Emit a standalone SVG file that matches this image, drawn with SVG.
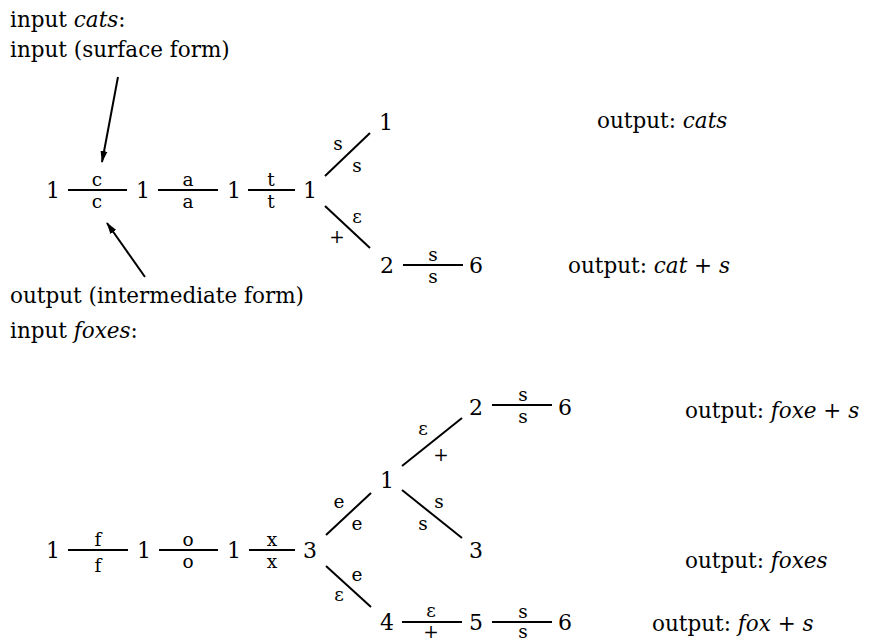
<svg xmlns="http://www.w3.org/2000/svg" width="869" height="641" viewBox="0 0 869 641">
<defs>
<style>
text { font-family: "DejaVu Serif", "Liberation Serif", serif; fill: #000; }
.t { font-size: 21.5px; }
.n { font-size: 22px; text-anchor: middle; }
.l { font-size: 18.5px; text-anchor: middle; }
.e { stroke: #000; stroke-width: 2; fill: none; }
.a { stroke: #000; stroke-width: 2; fill: none; marker-end: url(#ah); }
</style>
<marker id="ah" viewBox="0 0 12 8" refX="11" refY="4" markerWidth="12" markerHeight="8" markerUnits="userSpaceOnUse" orient="auto">
<path d="M0,0.5 L12,4 L0,7.5 z" fill="#000"/>
</marker>
</defs>
<rect width="869" height="641" fill="#fff"/>

<!-- annotations -->
<g id="captions">
<text class="t" x="10" y="27">input <tspan font-style="italic">cats</tspan>:</text>
<text class="t" x="10" y="57">input (surface form)</text>
<text class="t" x="10" y="303">output (intermediate form)</text>
<text class="t" x="10" y="338">input <tspan font-style="italic">foxes</tspan>:</text>
<text class="t" x="597" y="128">output: <tspan font-style="italic">cats</tspan></text>
<text class="t" x="568" y="273">output: <tspan font-style="italic">cat</tspan> + <tspan font-style="italic">s</tspan></text>
<text class="t" x="685" y="418">output: <tspan font-style="italic">foxe</tspan> + <tspan font-style="italic">s</tspan></text>
<text class="t" x="685" y="568">output: <tspan font-style="italic">foxes</tspan></text>
<text class="t" x="652" y="631">output: <tspan font-style="italic">fox</tspan> + <tspan font-style="italic">s</tspan></text>
</g>

<!-- nodes: cats -->
<g id="c_n0"><text class="n" x="53" y="198">1</text></g>
<g id="c_n1"><text class="n" x="143" y="198">1</text></g>
<g id="c_n2"><text class="n" x="234" y="198">1</text></g>
<g id="c_n3"><text class="n" x="310" y="198">1</text></g>
<g id="c_n4"><text class="n" x="386" y="130">1</text></g>
<g id="c_n5"><text class="n" x="387" y="273">2</text></g>
<g id="c_n6"><text class="n" x="476" y="273">6</text></g>

<!-- nodes: foxes -->
<g id="f_n0"><text class="n" x="53" y="558">1</text></g>
<g id="f_n1"><text class="n" x="144" y="558">1</text></g>
<g id="f_n2"><text class="n" x="234" y="558">1</text></g>
<g id="f_n3"><text class="n" x="310" y="558">3</text></g>
<g id="f_n4"><text class="n" x="387" y="488">1</text></g>
<g id="f_n5"><text class="n" x="476" y="415">2</text></g>
<g id="f_n6"><text class="n" x="565" y="415">6</text></g>
<g id="f_n7"><text class="n" x="476" y="558">3</text></g>
<g id="f_n8"><text class="n" x="387" y="630">4</text></g>
<g id="f_n9"><text class="n" x="476" y="630">5</text></g>
<g id="f_n10"><text class="n" x="565" y="630">6</text></g>

<g id="connectors">
<!-- annotation arrows -->
<line class="a" x1="118" y1="77" x2="102" y2="162"/>
<line class="a" x1="145" y1="277" x2="107" y2="223"/>

<!-- cats transitions -->
<line class="e" x1="68" y1="190" x2="127" y2="190"/>
<text class="l" x="97" y="186">c</text><text class="l" x="97" y="208">c</text>
<line class="e" x1="158" y1="190" x2="218" y2="190"/>
<text class="l" x="188" y="186">a</text><text class="l" x="188" y="208">a</text>
<line class="e" x1="248" y1="190" x2="295" y2="190"/>
<text class="l" x="271" y="186">t</text><text class="l" x="271" y="208">t</text>
<line class="e" x1="325" y1="176" x2="370" y2="133"/>
<text class="l" x="338" y="150">s</text><text class="l" x="357" y="172">s</text>
<line class="e" x1="325" y1="206" x2="370" y2="248"/>
<text class="l" x="357" y="223">ε</text><text class="l" x="337" y="243">+</text>
<line class="e" x1="403" y1="265" x2="463" y2="265"/>
<text class="l" x="433" y="261">s</text><text class="l" x="433" y="283">s</text>

<!-- foxes transitions -->
<line class="e" x1="68" y1="550" x2="128" y2="550"/>
<text class="l" x="98" y="546">f</text><text class="l" x="98" y="572">f</text>
<line class="e" x1="159" y1="550" x2="218" y2="550"/>
<text class="l" x="188" y="546">o</text><text class="l" x="188" y="568">o</text>
<line class="e" x1="249" y1="550" x2="295" y2="550"/>
<text class="l" x="272" y="546">x</text><text class="l" x="272" y="568">x</text>
<line class="e" x1="326" y1="535" x2="371" y2="493"/>
<text class="l" x="339" y="508">e</text><text class="l" x="357" y="530">e</text>
<line class="e" x1="402" y1="466" x2="462" y2="418"/>
<text class="l" x="423" y="435">ε</text><text class="l" x="441" y="461">+</text>
<line class="e" x1="492" y1="405" x2="552" y2="405"/>
<text class="l" x="523" y="401">s</text><text class="l" x="523" y="423">s</text>
<line class="e" x1="402" y1="490" x2="462" y2="538"/>
<text class="l" x="439" y="508">s</text><text class="l" x="423" y="530">s</text>
<line class="e" x1="326" y1="566" x2="371" y2="607"/>
<text class="l" x="357" y="581">e</text><text class="l" x="339" y="601">ε</text>
<line class="e" x1="402" y1="622" x2="462" y2="622"/>
<text class="l" x="431" y="617">ε</text><text class="l" x="431" y="638">+</text>
<line class="e" x1="492" y1="622" x2="552" y2="622"/>
<text class="l" x="523" y="618">s</text><text class="l" x="523" y="638">s</text>
</g>
</svg>
